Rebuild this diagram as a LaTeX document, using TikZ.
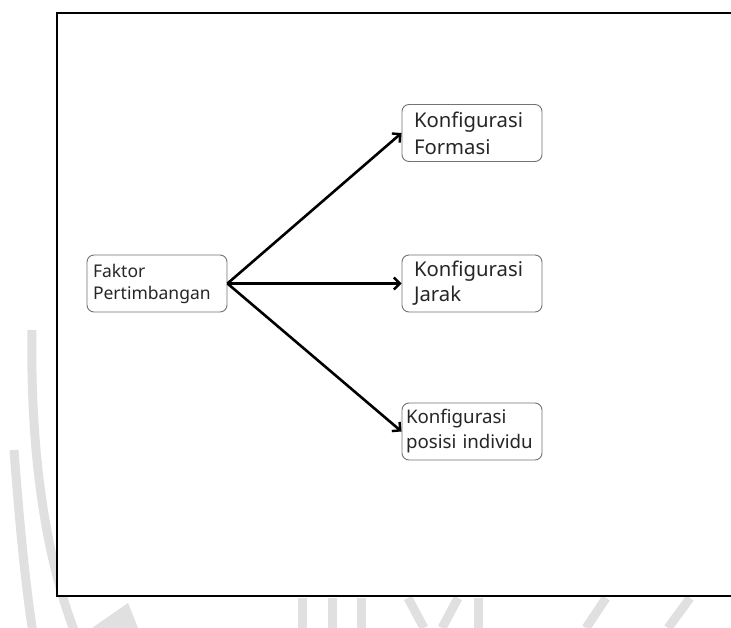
\documentclass[tikz,border=0pt]{standalone}
\usepackage{fontspec}
\setmainfont{Noto Sans}
\usetikzlibrary{arrows.meta}

\begin{document}
\begin{tikzpicture}[x=1pt, y=-1pt,
    kotak/.style={draw=black!55, line width=0.9pt, rounded corners=7pt,
                  minimum width=140pt, minimum height=57pt, text=black!85,
                  align=left, inner xsep=0pt, inner ysep=0pt},
    panah/.style={line width=2.6pt,
                  -{Straight Barb[length=6pt, width=12pt, line width=2.4pt]}},
    wm/.style={draw=black!12, line width=9pt}]
  \useasboundingbox (0,0) rectangle (731,628);

  \draw[wm]      ( 32, 330) .. controls ( 30, 450) and ( 45, 560) .. ( 78, 640);
  \draw[wm]      ( 14, 450) .. controls ( 20, 530) and ( 26, 590) .. ( 34, 640);
  \fill[black!12] ( 92, 628) -- (128, 603) -- (138, 628) -- cycle;
  \draw[wm]      (302, 598) -- (302, 628);
  \draw[wm]      (332, 598) -- (332, 628);
  \draw[wm]      (361, 598) -- (361, 628);
  \draw[wm]      (408, 598) -- (424, 628);
  \draw[wm]      (458, 598) -- (442, 628);
  \draw[wm]      (478, 598) -- (478, 628);
  \draw[wm]      (606, 598) -- (586, 628);
  \draw[wm]      (690, 598) -- (668, 628);

  \fill[white]   ( 57,  13) rectangle (733, 596);
  \draw[line width=2pt]
                 (733,  13)
              -- ( 57,  13)
              -- ( 57, 596)
              -- (733, 596);

  \node[kotak, text width=128pt, font=\fontsize{17.5}{22}\selectfont]
        (faktor)  at (157, 283.5) {Faktor\\Pertimbangan};
  \node[kotak, text width=116pt, font=\fontsize{20.3}{27}\selectfont]
        (formasi) at (472, 133)   {Konfigurasi\\Formasi};
  \node[kotak, text width=116pt, font=\fontsize{20.3}{25}\selectfont]
        (jarak)   at (472, 283.5) {Konfigurasi\\Jarak};
  \node[kotak, text width=132pt, font=\fontsize{18.7}{25}\selectfont]
        (posisi)  at (472, 431.5) {Konfigurasi\\posisi individu};

  \draw[panah] (faktor.east) -- (formasi.west);
  \draw[panah] (faktor.east) -- (jarak.west);
  \draw[panah] (faktor.east) -- (posisi.west);

\end{tikzpicture}
\end{document}
